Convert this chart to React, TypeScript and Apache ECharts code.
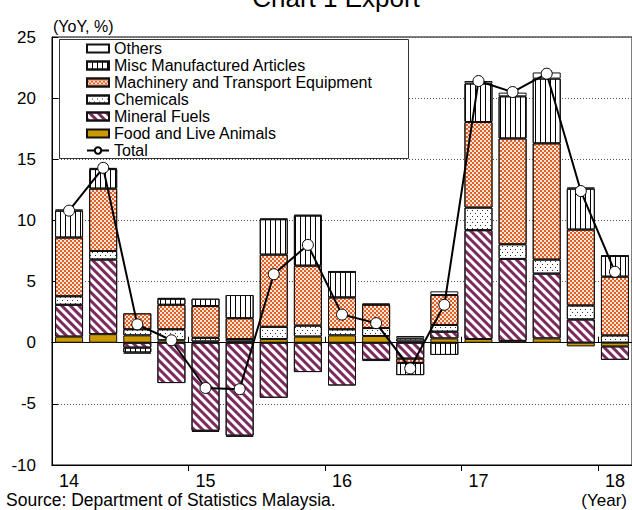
import React, { useEffect, useRef } from 'react';
import * as echarts from 'echarts';

const quarters = ['14Q1', '14Q2', '14Q3', '14Q4', '15Q1', '15Q2', '15Q3', '15Q4', '16Q1', '16Q2', '16Q3', '16Q4', '17Q1', '17Q2', '17Q3', '17Q4', '18Q1'];
const yearLabels = ['14', '15', '16', '17', '18'];
const yTicks = [-10, 25, 5]; // min, max, interval

const food = [0.5, 0.7, 0.6, 0.2, 0.1, 0.1, 0.3, 0.5, 0.6, 0.55, 0.1, 0.35, 0.3, 0.15, 0.35, -0.3, -0.3];
const mineral = [2.6, 6.1, -0.4, -3.3, -7.2, -7.6, -4.5, -2.4, -3.5, -1.4, -1.3, 0.55, 8.9, 6.7, 5.3, 1.9, -1.1];
const chemicals = [0.7, 0.7, 0.5, 0.9, 0.3, 0.2, 1.0, 0.9, 0.5, 0.65, 0.25, 0.55, 1.85, 1.2, 1.15, 1.15, 0.6];
const machinery = [4.8, 5.1, 1.3, 2.0, 2.6, 1.7, 5.9, 4.9, 2.6, 1.9, -0.35, 2.45, 7.0, 8.65, 9.5, 6.2, 4.8];
const misc = [2.2, 1.6, -0.4, 0.5, 0.6, 1.9, 2.9, 4.1, 2.1, 0.1, -1.0, -1.0, 3.15, 3.45, 5.3, 3.35, 1.7];
const others = [0.1, 0.1, -0.1, 0.05, -0.1, -0.1, 0.05, 0.05, 0.05, -0.1, 0.2, 0.3, 0.2, 0.3, 0.5, 0.1, 0.05];
const total = [10.8, 14.3, 1.5, 0.2, -3.7, -3.8, 5.6, 8.0, 2.3, 1.6, -2.1, 3.1, 21.4, 20.5, 22.0, 12.4, 5.8];

const FONT = '"Liberation Sans", Arial, sans-serif';

export default function App() {
  const ref = useRef<HTMLDivElement>(null);
  useEffect(() => {
    const chart = echarts.init(ref.current!, null, { renderer: 'svg' });
    const border = { borderColor: '#111', borderWidth: 1 };
    const mkBar = (name: string, data: number[], itemStyle: any) => ({
      name,
      type: 'bar',
      stack: 'exp',
      data,
      barWidth: 28,
      xAxisIndex: 0,
      itemStyle: { ...border, ...itemStyle },
      emphasis: { disabled: true },
    });
    const catAxisBase = {
      type: 'category',
      data: quarters,
      boundaryGap: true,
    };
    const tickInterval = (i: number) => i % 4 === 0 && i > 0;
    const option: any = {
      animation: false,
      textStyle: { fontFamily: FONT, color: '#000' },
      grid: {
        left: 52, top: 37, width: 581, height: 428,
        show: true, borderColor: '#000', borderWidth: 1, backgroundColor: 'transparent',
      },
      legend: {
        orient: 'vertical', left: 86, top: 40, padding: 0, itemGap: 0,
        itemWidth: 22, itemHeight: 8, selectedMode: false, z: 5,
        textStyle: { fontSize: 16, lineHeight: 17, color: '#000', fontFamily: FONT },
        data: [
          { name: 'Others', icon: 'rect' },
          { name: 'Misc Manufactured Articles', icon: 'rect' },
          { name: 'Machinery and Transport Equipment', icon: 'rect' },
          { name: 'Chemicals', icon: 'rect' },
          { name: 'Mineral Fuels', icon: 'rect' },
          { name: 'Food and Live Animals', icon: 'rect' },
          { name: 'Total' },
        ],
      },
      xAxis: [
        {
          ...catAxisBase,
          position: 'bottom',
          axisLine: { show: true, onZero: false, lineStyle: { color: '#000', width: 1 } },
          axisTick: { show: false },
          splitLine: { show: false },
          axisLabel: {
            interval: 0, fontSize: 18, color: '#000', margin: 7, fontFamily: FONT,
            formatter: (_v: string, i: number) => (i % 4 === 0 ? yearLabels[i / 4] : ''),
          },
        },
        {
          ...catAxisBase,
          position: 'top',
          axisLine: { show: true, onZero: true, lineStyle: { color: '#000', width: 1 } },
          axisTick: { show: true, interval: tickInterval, length: 6, lineStyle: { color: '#000' } },
          axisLabel: { show: false },
          splitLine: { show: false },
        },
        {
          ...catAxisBase,
          position: 'bottom',
          axisLine: { show: true, onZero: true, lineStyle: { color: '#000', width: 1 } },
          axisTick: { show: true, interval: tickInterval, length: 6, lineStyle: { color: '#000' } },
          axisLabel: { show: false },
          splitLine: { show: false },
        },
      ],
      yAxis: {
        type: 'value', min: yTicks[0], max: yTicks[1], interval: yTicks[2],
        axisLine: { show: true, onZero: false, lineStyle: { color: '#000' } },
        axisTick: { show: true, inside: true, length: 6, lineStyle: { color: '#000' } },
        axisLabel: { fontSize: 17, color: '#000', margin: 16, fontFamily: FONT },
        splitLine: { show: true, lineStyle: { color: '#555', type: [1, 2], width: 1 } },
      },
      graphic: [
        {
          type: 'rect', z: 3,
          shape: { x: 59.5, y: 39.5, width: 349, height: 119 },
          style: { fill: '#fff', stroke: '#333', lineWidth: 1 },
        },
        {
          type: 'text', x: 336, y: -2,
          style: { text: 'Chart 1 Export', fontSize: 26, fontFamily: FONT, fill: '#000', align: 'center', verticalAlign: 'middle', textAlign: 'center', textVerticalAlign: 'middle' },
        },
        {
          type: 'text', x: 53, y: 26,
          style: { text: '(YoY, %)', fontSize: 16, fontFamily: FONT, fill: '#000', align: 'left', verticalAlign: 'middle', textAlign: 'left', textVerticalAlign: 'middle' },
        },
        {
          type: 'text', x: 6, y: 500,
          style: { text: 'Source: Department of Statistics Malaysia.', fontSize: 17.5, fontFamily: FONT, fill: '#000', align: 'left', verticalAlign: 'middle', textAlign: 'left', textVerticalAlign: 'middle' },
        },
        {
          type: 'text', x: 627, y: 500,
          style: { text: '(Year)', fontSize: 17, fontFamily: FONT, fill: '#000', align: 'right', verticalAlign: 'middle', textAlign: 'right', textVerticalAlign: 'middle' },
        },
      ],
      series: [
        mkBar('Food and Live Animals', food, { color: '#CC9900' }),
        mkBar('Mineral Fuels', mineral, {
          color: '#fff',
          decal: { symbol: 'rect', symbolSize: 1, color: '#7B2B5D', dashArrayX: [2.6, 2.6], dashArrayY: [10, 0], rotation: -Math.PI / 4 },
        }),
        mkBar('Chemicals', chemicals, {
          color: '#fff',
          decal: { symbol: 'rect', symbolSize: 1, color: '#333', dashArrayX: [[1, 4], [0, 2, 1, 2]], dashArrayY: [1, 2], rotation: 0 },
        }),
        mkBar('Machinery and Transport Equipment', machinery, {
          color: '#FBE6D6',
          decal: { symbol: 'rect', symbolSize: 1, color: '#E0602A', dashArrayX: [[2, 2], [0, 2, 2, 0]], dashArrayY: [2, 0], rotation: 0 },
        }),
        mkBar('Misc Manufactured Articles', misc, {
          color: '#fff',
          decal: { symbol: 'rect', symbolSize: 1, color: '#000', dashArrayX: [1, 3.7], dashArrayY: [10, 0], rotation: 0 },
        }),
        mkBar('Others', others, { color: '#fff' }),
        {
          name: 'Total', type: 'line', data: total, xAxisIndex: 0, z: 10,
          symbol: 'circle', symbolSize: 11,
          lineStyle: { color: '#000', width: 2 },
          itemStyle: { color: '#fff', borderColor: '#000', borderWidth: 1 },
          emphasis: { disabled: true },
        },
      ],
    };
    chart.setOption(option);
    return () => chart.dispose();
  }, []);
  return <div ref={ref} style={{ position: 'absolute', left: 0, top: 0, width: 632, height: 510 }} />;
}
